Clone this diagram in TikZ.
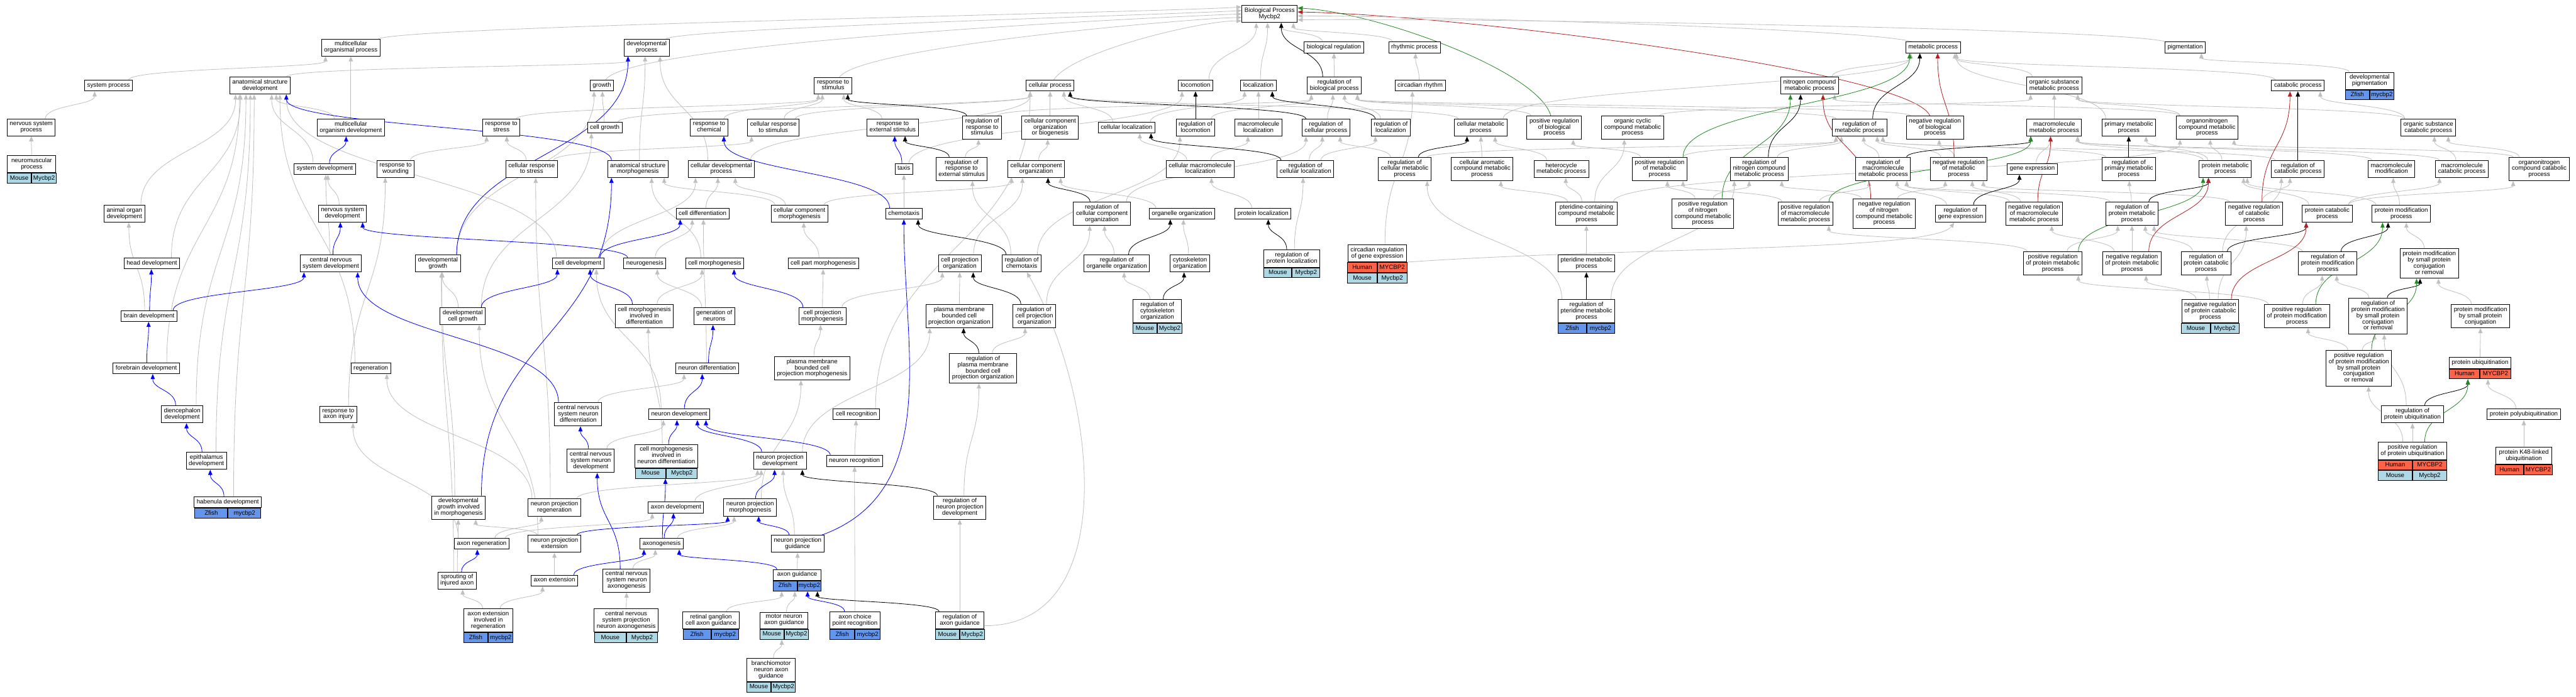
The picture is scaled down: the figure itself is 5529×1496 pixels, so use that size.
\documentclass[tikz,border=0pt]{standalone}
\usepackage{fontspec}
\setmainfont{Liberation Sans}
\usetikzlibrary{arrows.meta,fit}
\pgfdeclarelayer{bg}
\pgfdeclarelayer{edges}
\pgfsetlayers{bg,edges,main}
\definecolor{egray}{RGB}{192,192,192}
\definecolor{dgreen}{RGB}{34,139,34}
\definecolor{dred}{RGB}{178,34,34}
\definecolor{mouseC}{RGB}{173,216,230}
\definecolor{zfishC}{RGB}{100,149,237}
\definecolor{humanC}{RGB}{255,99,71}
\newcommand\nodefont{\fontsize{13.2}{13.4}\selectfont}
\tikzset{
  box/.style={draw=black,line width=1.3pt,fill=white,align=center,inner xsep=5.5pt,inner ysep=4.8pt,font=\nodefont,execute at begin node=\strut,execute at end node=\strut},
  gcell/.style={draw=black,line width=1.3pt,minimum height=21.5pt,inner sep=0pt,font=\nodefont,text height=9.5pt,text depth=3pt},
  tipA/.style={-{Triangle[length=11pt,width=9pt]}},
  ge/.style={draw=egray,line width=1.1pt,tipA},
  be/.style={draw=blue,line width=1.1pt,tipA},
  ke/.style={draw=black,line width=1.1pt,tipA},
  gre/.style={draw=dgreen,line width=1.1pt,tipA},
  re/.style={draw=dred,line width=1.1pt,tipA}
}
\newcommand\Bx[4]{\node[box] (#1) at (#2,#3) {#4};}
\newcommand\Gone[8]{%
  \node[box,minimum width=#4pt] (#1t) at (#2,#3) {#5};
  \node[gcell,fill=#6,minimum width=#4pt/2,anchor=north east] (#1a) at (#1t.south) {#7};
  \node[gcell,fill=#6,minimum width=#4pt/2,anchor=north west] (#1b) at (#1t.south) {#8};
  \node[fit=(#1t)(#1a)(#1b),inner sep=0pt] (#1) {};}
\newcommand\Gtwo[5]{%
  \node[box,minimum width=#4pt] (#1t) at (#2,#3) {#5};
  \node[gcell,fill=humanC,minimum width=#4pt/2,anchor=north east] (#1a) at (#1t.south) {Human};
  \node[gcell,fill=humanC,minimum width=#4pt/2,anchor=north west] (#1b) at (#1t.south) {MYCBP2};
  \node[gcell,fill=mouseC,minimum width=#4pt/2,anchor=north east] (#1c) at (#1a.south east) {Mouse};
  \node[gcell,fill=mouseC,minimum width=#4pt/2,anchor=north west] (#1d) at (#1a.south east) {Mycbp2};
  \node[fit=(#1t)(#1c)(#1d),inner sep=0pt] (#1) {};}
% connector from node #2 (top side) to node #3 (bottom side), graphviz-like spline
\newcommand\edge[3]{%
  \pgfpointanchor{#2}{north west}\pgfgetlastxy{\eAx}{\eAy}%
  \pgfpointanchor{#2}{north east}\pgfgetlastxy{\eBx}{\eBy}%
  \pgfpointanchor{#3}{south west}\pgfgetlastxy{\eCx}{\eCy}%
  \pgfpointanchor{#3}{south east}\pgfgetlastxy{\eDx}{\eDy}%
  \pgfpointanchor{#2}{center}\pgfgetlastxy{\eEx}{\eEy}%
  \pgfpointanchor{#3}{center}\pgfgetlastxy{\eFx}{\eFy}%
  \pgfmathsetmacro\eS{\eEx+max(-(\eBx-\eAx)/2+9,min((\eBx-\eAx)/2-9,(\eFx-\eEx)*0.18))}%
  \pgfmathsetmacro\eT{\eFx+max(-(\eDx-\eCx)/2+9,min((\eDx-\eCx)/2-9,(\eEx-\eFx)*0.18))}%
  \pgfmathsetmacro\eM{(\eAy+\eCy)/2}%
  \draw[#1] (\eS pt,\eAy) .. controls (\eS pt,\eM pt) and (\eT pt,\eM pt) .. (\eT pt,\eCy);}
\begin{document}
\begin{tikzpicture}[x=1pt,y=-1pt]
\useasboundingbox (0,0) rectangle (5529,1496);
\begin{pgfonlayer}{bg}
\fill[white] (0,0) rectangle (5529,1496);
\end{pgfonlayer}
% row 30/102
\Bx{BP}{2725}{30}{Biological Process\\Mycbp2}
\Bx{mop}{753}{102}{multicellular\\organismal process}
\Bx{devp}{1388}{102}{developmental\\process}
\Bx{bioreg}{2863}{102}{biological regulation}
\Bx{rhythm}{3036}{102}{rhythmic process}
\Bx{metab}{4149}{102}{metabolic process}
\Bx{pigment}{4690}{102}{pigmentation}
% row 184
\Bx{sysp}{233}{184}{system process}
\Bx{asd}{558}{184}{anatomical structure\\development}
\Bx{growth}{1292}{184}{growth}
\Bx{rstim}{1788}{184}{response to\\stimulus}
\Bx{cellp}{2254}{184}{cellular process}
\Bx{locom}{2566}{184}{locomotion}
\Bx{local}{2701}{184}{localization}
\Bx{regbp}{2864}{184}{regulation of\\biological process}
\Bx{circ}{3048}{184}{circadian rhythm}
\Bx{ncmp}{3884}{184}{nitrogen compound\\metabolic process}
\Bx{osmp}{4409}{184}{organic substance\\metabolic process}
\Bx{catp}{4932}{184}{catabolic process}
\Gone{devpig}{5086}{173.5}{103}{developmental\\pigmentation}{zfishC}{Zfish}{mycbp2}
% row 274
\Bx{nsp}{67}{274}{nervous system\\process}
\Bx{mod}{753}{274}{multicellular\\organism development}
\Bx{rstress}{1076}{274}{response to\\stress}
\Bx{cgrowth}{1298}{274}{cell growth}
\Bx{rchem}{1522}{274}{response to\\chemical}
\Bx{crstim}{1660}{274}{cellular response\\to stimulus}
\Bx{res}{1916}{274}{response to\\external stimulus}
\Bx{regrs}{2108}{274}{regulation of\\response to\\stimulus}
\Bx{ccob}{2254}{274}{cellular component\\organization\\or biogenesis}
\Bx{cloc}{2418}{274}{cellular localization}
\Bx{reglocom}{2566}{274}{regulation of\\locomotion}
\Bx{macloc}{2701}{274}{macromolecule\\localization}
\Bx{regcp}{2846}{274}{regulation of\\cellular process}
\Bx{regloc}{2985}{274}{regulation of\\localization}
\Bx{cmp}{3178}{274}{cellular metabolic\\process}
\Bx{prbp}{3336}{274}{positive regulation\\of biological\\process}
\Bx{occmp}{3504}{274}{organic cyclic\\compound metabolic\\process}
\Bx{regmp}{3991}{274}{regulation of\\metabolic process}
\Bx{nrbp}{4153}{274}{negative regulation\\of biological\\process}
\Bx{macmp}{4409}{274}{macromolecule\\metabolic process}
\Bx{primp}{4569}{274}{primary metabolic\\process}
\Bx{oncmp}{4737}{274}{organonitrogen\\compound metabolic\\process}
\Bx{oscatp}{5212}{274}{organic substance\\catabolic process}
% row 363
\Gone{nmp}{68}{352.5}{104}{neuromuscular\\process}{mouseC}{Mouse}{Mycbp2}
\Bx{sysdev}{697}{363}{system development}
\Bx{rwound}{849}{363}{response to\\wounding}
\Bx{crstress}{1141}{363}{cellular response\\to stress}
\Bx{asm}{1369}{363}{anatomical structure\\morphogenesis}
\Bx{cdevp}{1548}{363}{cellular developmental\\process}
\Bx{taxis}{1940}{363}{taxis}
\Bx{regres}{2064}{363}{regulation of\\response to\\external stimulus}
\Bx{cco}{2224}{363}{cellular component\\organization}
\Bx{cml}{2576}{363}{cellular macromolecule\\localization}
\Bx{regcloc}{2802}{363}{regulation of\\cellular localization}
\Bx{rcmp}{3015}{363}{regulation of\\cellular metabolic\\process}
\Bx{camp}{3181}{363}{cellular aromatic\\compound metabolic\\process}
\Bx{hetero}{3351}{363}{heterocycle\\metabolic process}
\Bx{prmp}{3562}{363}{positive regulation\\of metabolic\\process}
\Bx{regncmp}{3776}{363}{regulation of\\nitrogen compound\\metabolic process}
\Bx{rmmp}{4042}{363}{regulation of\\macromolecule\\metabolic process}
\Bx{nrmp}{4204}{363}{negative regulation\\of metabolic\\process}
\Bx{geneexp}{4362}{363}{gene expression}
\Bx{rprimp}{4569}{363}{regulation of\\primary metabolic\\process}
\Bx{protmp}{4776}{363}{protein metabolic\\process}
\Bx{rcatp}{4932}{363}{regulation of\\catabolic process}
\Bx{macmod}{5133}{363}{macromolecule\\modification}
\Bx{maccatp}{5284}{363}{macromolecule\\catabolic process}
\Bx{oncatp}{5450}{363}{organonitrogen\\compound catabolic\\process}
% row 459
\Bx{aod}{267}{459}{animal organ\\development}
\Bx{nsd}{735}{459}{nervous system\\development}
\Bx{cdiff}{1508}{459}{cell differentiation}
\Bx{ccm}{1716}{459}{cellular component\\morphogenesis}
\Bx{chemo}{1940}{459}{chemotaxis}
\Bx{rcco}{2365}{459}{regulation of\\cellular component\\organization}
\Bx{orgorg}{2537}{459}{organelle organization}
\Bx{protloc}{2711}{459}{protein localization}
\Bx{pteridc}{3405}{459}{pteridine-containing\\compound metabolic\\process}
\Bx{prncmp}{3655}{459}{positive regulation\\of nitrogen\\compound metabolic\\process}
\Bx{prmmp}{3875}{459}{positive regulation\\of macromolecule\\metabolic process}
\Bx{nrncmp}{4044}{459}{negative regulation\\of nitrogen\\compound metabolic\\process}
\Bx{rge}{4208}{459}{regulation of\\gene expression}
\Bx{nrmmp}{4366}{459}{negative regulation\\of macromolecule\\metabolic process}
\Bx{rpmp}{4576}{459}{regulation of\\protein metabolic\\process}
\Bx{nrcatp}{4838}{459}{negative regulation\\of catabolic\\process}
\Bx{protcat}{4995}{459}{protein catabolic\\process}
\Bx{protmod}{5154}{459}{protein modification\\process}
% row 566
\Bx{headdev}{326}{566}{head development}
\Bx{cnsd}{710}{566}{central nervous\\system development}
\Bx{devgrowth}{940}{566}{developmental\\growth}
\Bx{celldev}{1241}{566}{cell development}
\Bx{neurog}{1384}{566}{neurogenesis}
\Bx{cellmorph}{1534}{566}{cell morphogenesis}
\Bx{cpartm}{1767}{566}{cell part morphogenesis}
\Bx{cpo}{2060}{566}{cell projection\\organization}
\Bx{regchemo}{2193}{566}{regulation of\\chemotaxis}
\Bx{regorg}{2397}{566}{regulation of\\organelle organization}
\Bx{cytoorg}{2554}{566}{cytoskeleton\\organization}
\Gone{regploc}{2773}{555.5}{119}{regulation of\\protein localization}{mouseC}{Mouse}{Mycbp2}
\Gtwo{circreg}{2956}{544.5}{126}{circadian regulation\\of gene expression}
\Bx{pterid}{3405}{566}{pteridine metabolic\\process}
\Bx{prpmp}{4406}{566}{positive regulation\\of protein metabolic\\process}
\Bx{nrpmp}{4576}{566}{negative regulation\\of protein metabolic\\process}
\Bx{rpcatp}{4735}{566}{regulation of\\protein catabolic\\process}
\Bx{rpmodp}{4996}{566}{regulation of\\protein modification\\process}
\Bx{pmspcr}{5214}{566}{protein modification\\by small protein\\conjugation\\or removal}
% row 679
\Bx{braindev}{320}{679}{brain development}
\Bx{devcellg}{993}{679}{developmental\\cell growth}
\Bx{cmd}{1383}{679}{cell morphogenesis\\involved in\\differentiation}
\Bx{genneur}{1533}{679}{generation of\\neurons}
\Bx{cpm}{1765}{679}{cell projection\\morphogenesis}
\Bx{pmbcpo}{2059}{679}{plasma membrane\\bounded cell\\projection organization}
\Bx{rcpo}{2220}{679}{regulation of\\cell projection\\organization}
\Gone{regcyto}{2484}{668.5}{104}{regulation of\\cytoskeleton\\organization}{mouseC}{Mouse}{Mycbp2}
\Gone{regpter}{3405}{668.5}{119}{regulation of\\pteridine metabolic\\process}{zfishC}{Zfish}{mycbp2}
\Gone{nrpcat}{4744}{668.5}{122}{negative regulation\\of protein catabolic\\process}{mouseC}{Mouse}{Mycbp2}
\Bx{prpmodp}{4930}{679}{positive regulation\\of protein modification\\process}
\Bx{rpmspcr}{5104}{679}{regulation of\\protein modification\\by small protein\\conjugation\\or removal}
\Bx{pmspc}{5324}{679}{protein modification\\by small protein\\conjugation}
% row 791
\Bx{forebrain}{314}{791}{forebrain development}
\Bx{regen}{796}{791}{regeneration}
\Bx{neurdiff}{1518}{791}{neuron differentiation}
\Bx{pmbcpm}{1743}{791}{plasma membrane\\bounded cell\\projection morphogenesis}
\Bx{regpmbcpo}{2110}{791}{regulation of\\plasma membrane\\bounded cell\\projection organization}
\Bx{prpmspcr}{5063}{791}{positive regulation\\of protein modification\\by small protein\\conjugation\\or removal}
\Gone{protubi}{5323}{779.5}{130}{protein ubiquitination}{humanC}{Human}{MYCBP2}
% row 890
\Bx{dienc}{391}{890}{diencephalon\\development}
\Bx{raxinj}{726}{890}{response to\\axon injury}
\Bx{cnsnd}{1241}{890}{central nervous\\system neuron\\differentiation}
\Bx{neurdev}{1458}{890}{neuron development}
\Bx{cellrec}{1838}{890}{cell recognition}
\Bx{regubi}{5178}{890}{regulation of\\protein ubiquitination}
\Bx{polyubi}{5417}{890}{protein polyubiquitination}
% row 990
\Bx{epith}{443}{990}{epithalamus\\development}
\Bx{cnsndev}{1268}{990}{central nervous\\system neuron\\development}
\Gone{cmnd}{1430}{979.5}{132}{cell morphogenesis\\involved in\\neuron differentiation}{mouseC}{Mouse}{Mycbp2}
\Bx{npd}{1674}{990}{neuron projection\\development}
\Bx{neurrec}{1834}{990}{neuron recognition}
\Gtwo{prubi}{5178}{968.5}{146}{positive regulation\\of protein ubiquitination}
\Gone{k48}{5417}{979}{121}{protein K48-linked\\ubiquitination}{humanC}{Human}{MYCBP2}
% row 1090
\Gone{habenula}{489}{1079}{140}{habenula development}{zfishC}{Zfish}{mycbp2}
\Bx{dgim}{984}{1090}{developmental\\growth involved\\in morphogenesis}
\Bx{npr}{1190}{1090}{neuron projection\\regeneration}
\Bx{axdev}{1451}{1090}{axon development}
\Bx{npm}{1610}{1090}{neuron projection\\morphogenesis}
\Bx{rnpd}{2060}{1090}{regulation of\\neuron projection\\development}
% row 1168
\Bx{axreg}{1034}{1168}{axon regeneration}
\Bx{npe}{1190}{1168}{neuron projection\\extension}
\Bx{axgen}{1420}{1168}{axonogenesis}
\Bx{npg}{1712}{1168}{neuron projection\\guidance}
% row 1247
\Bx{sprout}{981}{1247}{sprouting of\\injured axon}
\Bx{axext}{1190}{1247}{axon extension}
\Bx{cnsnax}{1345}{1247}{central nervous\\system neuron\\axonogenesis}
\Gone{axguid}{1711}{1235}{102}{axon guidance}{zfishC}{Zfish}{mycbp2}
% row 1332
\Gone{axexreg}{1048}{1332.5}{105}{axon extension\\involved in\\regeneration}{zfishC}{Zfish}{mycbp2}
\Gone{cnspna}{1344}{1332.5}{134}{central nervous\\system projection\\neuron axonogenesis}{mouseC}{Mouse}{Mycbp2}
\Gone{rgc}{1526}{1332.5}{118}{retinal ganglion\\cell axon guidance}{zfishC}{Zfish}{mycbp2}
\Gone{mnag}{1683}{1332.5}{103}{motor neuron\\axon guidance}{mouseC}{Mouse}{Mycbp2}
\Gone{acpr}{1835}{1332.5}{107}{axon choice\\point recognition}{zfishC}{Zfish}{mycbp2}
\Gone{regaxg}{2060}{1332.5}{104}{regulation of\\axon guidance}{mouseC}{Mouse}{Mycbp2}
\Gone{branch}{1655}{1439}{103}{branchiomotor\\neuron axon\\guidance}{mouseC}{Mouse}{Mycbp2}
% ================= edges
\begin{pgfonlayer}{edges}
% far children of the root enter it from the sides
\draw[ge] (mop) .. controls (900,55) and (2450,28) .. (BP.166);
\draw[ge] (devp) .. controls (1480,60) and (2500,32) .. (BP.173);
\draw[ge] (growth) .. controls (1350,90) and (2500,36) .. (BP.180);
\draw[ge] (rstim) .. controls (1850,100) and (2550,40) .. (BP.187);
\draw[ge] (cellp) .. controls (2300,110) and (2580,44) .. (BP.194);
\draw[gre] (prbp) .. controls (3300,150) and (2950,26) .. (BP.12);
\draw[re] (nrbp) .. controls (4100,150) and (3100,30) .. (BP.4);
\draw[ge] (metab) .. controls (4000,60) and (3000,34) .. (BP.-4);
\draw[ge] (pigment) .. controls (4550,60) and (3100,38) .. (BP.-12);
\foreach \a/\b in {locom/BP,local/BP,bioreg/BP,rhythm/BP,
sysp/mop,mod/mop,mod/asd,asd/devp,nsp/sysp,nmp/nsp,sysdev/asd,nsd/sysdev,cnsd/sysdev,aod/asd,headdev/asd,braindev/aod,forebrain/asd,dienc/asd,epith/asd,habenula/asd,regen/asd,celldev/asd,
asm/devp,cdevp/devp,cdevp/cellp,devgrowth/growth,cgrowth/growth,cgrowth/cellp,devcellg/cgrowth,devcellg/devgrowth,rstress/rstim,rwound/rstress,raxinj/rwound,crstress/rstress,crstress/crstim,rchem/rstim,crstim/rstim,crstim/cellp,res/rstim,
cdiff/cdevp,celldev/cdevp,ccm/asm,ccm/cdevp,ccm/cco,cellmorph/asm,cpartm/ccm,cpm/cpartm,cpm/cpo,cmd/cellmorph,genneur/neurog,neurog/cdiff,neurdiff/cdiff,neurdev/celldev,cnsnd/neurdiff,cnsndev/neurdev,cmnd/cmd,axgen/npm,axdev/npd,npm/pmbcpm,pmbcpm/cpm,npd/pmbcpo,npr/regen,npr/npd,npr/crstress,axreg/npr,axreg/axdev,axreg/raxinj,npe/dgim,npe/devcellg,dgim/devgrowth,sprout/dgim,sprout/devgrowth,axext/npe,axexreg/sprout,axexreg/axext,cnsnax/axgen,cnspna/cnsnax,npg/npd,axguid/npg,rgc/axguid,mnag/axguid,branch/mnag,acpr/neurrec,neurrec/cellrec,cellrec/cellp,
ccob/cellp,cco/ccob,orgorg/cco,cytoorg/orgorg,cpo/cco,pmbcpo/cpo,rcco/regcp,regorg/rcco,regcyto/regorg,rcpo/rcco,regpmbcpo/rcpo,rnpd/regpmbcpo,regaxg/rnpd,regchemo/regres,regchemo/reglocom,regres/regrs,regrs/regbp,reglocom/regbp,taxis/locom,chemo/taxis,
cloc/local,cloc/cellp,macloc/local,cml/cloc,cml/macloc,protloc/cml,regcloc/regcp,regcloc/regloc,regploc/regcloc,regbp/bioreg,regcp/regbp,regloc/regbp,circ/rhythm,circreg/circ,
cmp/metab,cmp/cellp,rcmp/regcp,rcmp/regmp,camp/cmp,hetero/cmp,occmp/osmp,pteridc/camp,pteridc/hetero,pteridc/occmp,pteridc/oncmp,pterid/pteridc,regpter/rcmp,regpter/regncmp,
prbp/regbp,nrbp/regbp,regmp/regbp,prmp/prbp,prmp/regmp,prncmp/prmp,prncmp/regncmp,prmmp/rmmp,prmmp/prmp,nrmp/nrbp,nrmp/regmp,nrncmp/nrmp,nrncmp/regncmp,nrmmp/nrmp,nrmmp/rmmp,rge/rmmp,geneexp/macmp,regncmp/regmp,rmmp/regmp,ncmp/metab,osmp/metab,macmp/osmp,primp/metab,rprimp/regmp,rpmp/rprimp,rpmp/rmmp,prpmp/rpmp,prpmp/prmmp,nrpmp/rpmp,nrpmp/nrmmp,oncmp/ncmp,oncmp/osmp,protmp/macmp,protmp/primp,protmp/oncmp,catp/metab,oscatp/catp,oscatp/osmp,rcatp/regmp,nrcatp/rcatp,nrcatp/nrmp,macmod/macmp,maccatp/macmp,maccatp/oscatp,oncatp/oscatp,oncatp/oncmp,protcat/protmp,protcat/maccatp,protcat/oncatp,protmod/protmp,protmod/macmod,rpcatp/rcatp,rpcatp/rpmp,rpmodp/rpmp,pmspcr/protmod,nrpcat/rpcatp,nrpcat/nrcatp,nrpcat/nrpmp,prpmodp/rpmodp,prpmodp/prpmp,rpmspcr/rpmodp,pmspc/pmspcr,prpmspcr/rpmspcr,prpmspcr/prpmodp,protubi/pmspc,regubi/rpmspcr,prubi/regubi,prubi/prpmspcr,polyubi/protubi,k48/polyubi,devpig/pigment}
  {\edge{ge}{\a}{\b}}
\draw[ge] (regaxg) to[out=0,in=-60] (regchemo);
\draw[ge] (circreg) .. controls (3500,530) and (4150,540) .. (rge);
\foreach \a/\b in {sysdev/mod,cnsd/nsd,neurog/nsd,braindev/cnsd,braindev/headdev,forebrain/braindev,dienc/forebrain,epith/dienc,habenula/epith,cnsnd/cnsd,asm/asd,devgrowth/devp,dgim/asm,devcellg/celldev,cmd/celldev,celldev/cdiff,cpm/cellmorph,neurdiff/genneur,neurdev/neurdiff,cnsndev/cnsnd,cmnd/neurdev,npd/neurdev,neurrec/neurdev,axgen/axdev,axgen/cmnd,npm/npd,npe/npm,npg/npm,axext/axgen,cnsnax/cnsndev,axguid/axgen,acpr/axguid,sprout/axreg,chemo/rchem,taxis/res}
  {\edge{be}{\a}{\b}}
\draw[be] (npg) to[out=20,in=-90] (chemo);
\foreach \a/\b in {regbp/BP,regcp/cellp,regloc/local,regcloc/cloc,regploc/protloc,reglocom/locom,regrs/rstim,regres/res,regchemo/chemo,regaxg/axguid,rnpd/npd,rcco/cco,regorg/orgorg,regcyto/cytoorg,rcpo/cpo,regpmbcpo/pmbcpo,rcmp/cmp,regpter/pterid,regmp/metab,regncmp/ncmp,rmmp/macmp,rge/geneexp,rprimp/primp,rpmp/protmp,rcatp/catp,rpcatp/protcat,rpmodp/protmod,rpmspcr/pmspcr,regubi/protubi}
  {\edge{ke}{\a}{\b}}
\foreach \a/\b in {prmp/metab,prncmp/ncmp,prmmp/macmp,prpmp/protmp,prpmodp/protmod,prpmspcr/pmspcr,prubi/protubi}
  {\edge{gre}{\a}{\b}}
\foreach \a/\b in {nrmp/metab,nrncmp/ncmp,nrmmp/macmp,nrpmp/protmp,nrcatp/catp,nrpcat/protcat}
  {\edge{re}{\a}{\b}}
\end{pgfonlayer}
\end{tikzpicture}
\end{document}
